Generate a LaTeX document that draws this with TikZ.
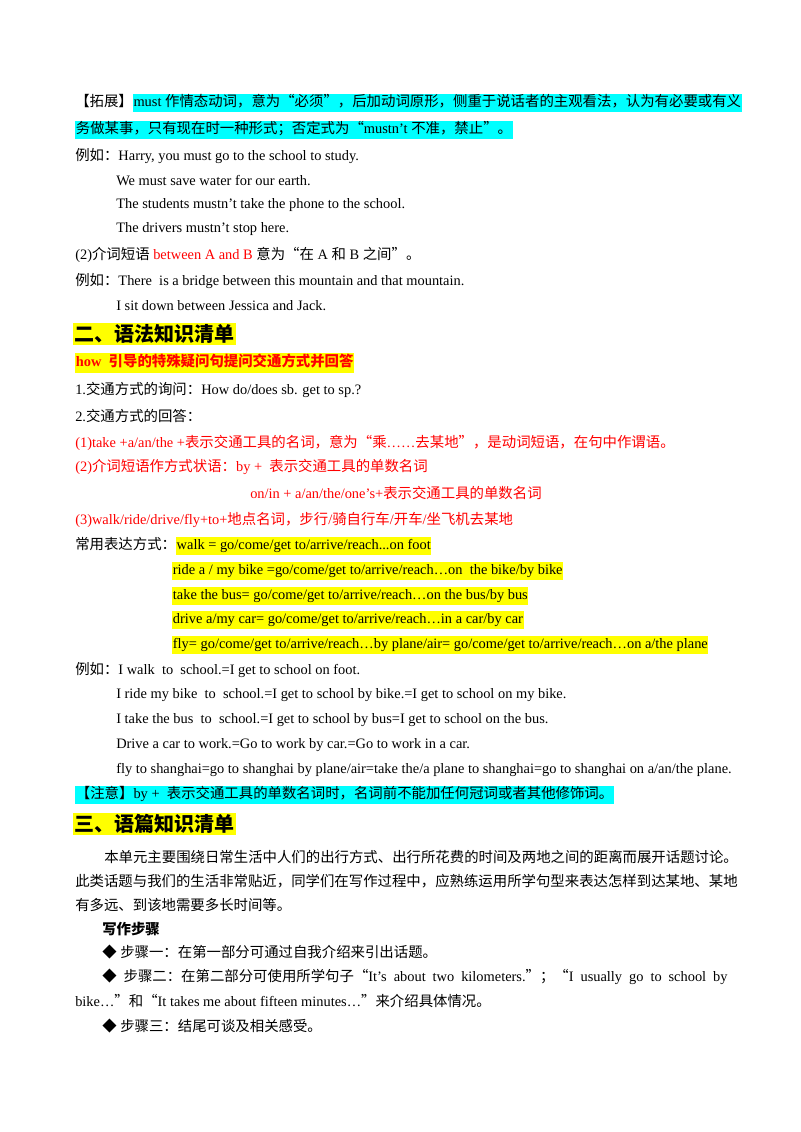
\documentclass[tikz,border=0pt]{standalone}
\usepackage{fontspec}
\usepackage{xcolor}
\setmainfont{Liberation Serif}
\newfontfamily\cjkfont{Noto Sans CJK SC}
\def\latinfont{\rmfamily}
\definecolor{hlcyan}{RGB}{0,255,255}
\definecolor{hlyellow}{RGB}{255,255,0}
% CJK font switching by character class
\XeTeXinterchartokenstate=1
\newXeTeXintercharclass\CJKcls
\newcount\cc
\def\setcls#1#2{\cc=#1\relax\loop\XeTeXcharclass\cc=\CJKcls\ifnum\cc<#2\relax\advance\cc by 1 \repeat}
\setcls{"3000}{"303F}
\setcls{"4E00}{"9FFF}
\setcls{"FF00}{"FFEF}
\setcls{"201C}{"201D}
\setcls{"25C6}{"25C6}
\XeTeXinterchartoks 0 \CJKcls = {\cjkfont}
\XeTeXinterchartoks 4095 \CJKcls = {\cjkfont}
\XeTeXinterchartoks \CJKcls 0 = {\latinfont}
\XeTeXinterchartoks \CJKcls 4095 = {\latinfont}
\XeTeXinterchartoks 4095 0 = {\latinfont}
\XeTeXlinebreaklocale "zh"
\XeTeXlinebreakskip=0pt plus 1pt
\newcommand{\hl}[2]{{\fboxsep=0.5pt\colorbox{#1}{\strut #2}}}
\newcommand{\rd}[1]{\textcolor{red}{#1}}
\tikzset{
  txt/.style={anchor=west,inner sep=0pt,font=\fontsize{10.8}{13}\selectfont},
  head/.style={anchor=west,inner sep=1pt,fill=hlyellow,font=\fontsize{15}{18}\selectfont\bfseries}
}
\begin{document}
\begin{tikzpicture}[x=0.75pt,y=0.75pt,yscale=-1]
\useasboundingbox[fill=white] (0,0) rectangle (800,1132);

% extension on must
\node[txt] (l1) at (75,103) {\makebox[489pt][s]{【拓展】\hl{hlcyan}{must 作情态动词，意为“必须”，后加动词原形，侧重于说话者的主观看法，认为有必要或有义}}};
\node[txt] (l2) at (75,130) {\hl{hlcyan}{务做某事，只有现在时一种形式；否定式为“mustn’t 不准，禁止”。}};
\node[txt] (l3) at (75,156) {例如：Harry, you must go to the school to study.};
\node[txt] (l4) at (116,181) {We must save water for our earth.};
\node[txt] (l5) at (116,205) {The students mustn’t take the phone to the school.};
\node[txt] (l6) at (116,229) {The drivers mustn’t stop here.};
\node[txt] (l7) at (75,255) {(2)介词短语 \rd{between A and B} 意为“在 A 和 B 之间”。};
\node[txt] (l8) at (75,281) {例如：There\ \ is a bridge between this mountain and that mountain.};
\node[txt] (l9) at (116,306) {I sit down between Jessica and Jack.};

% grammar list
\node[head] (h2) at (73,334) {二、语法知识清单};
\node[txt] (g0) at (75,363) {\hl{hlyellow}{\bfseries\color{red}how\ \ 引导的特殊疑问句提问交通方式并回答}};
\node[txt] (g1) at (75,390) {1.交通方式的询问：How do/does sb. get to sp.?};
\node[txt] (g2) at (75,416) {2.交通方式的回答：};
\node[txt,text=red] (g3) at (75,443) {(1)take +a/an/the +表示交通工具的名词，意为“乘……去某地”，是动词短语，在句中作谓语。};
\node[txt,text=red] (g4) at (75,467) {(2)介词短语作方式状语：by +\ \ 表示交通工具的单数名词};
\node[txt,text=red] (g5) at (250,493) {on/in + a/an/the/one’s+表示交通工具的单数名词};
\node[txt,text=red] (g6) at (75,520) {(3)walk/ride/drive/fly+to+地点名词，步行/骑自行车/开车/坐飞机去某地};
\node[txt] (e1) at (75,546) {常用表达方式：\hl{hlyellow}{walk = go/come/get to/arrive/reach...on foot}};
\node[txt] (e2) at (172,571) {\hl{hlyellow}{ride a / my bike =go/come/get to/arrive/reach…on\ \ the bike/by bike}};
\node[txt] (e3) at (172,596) {\hl{hlyellow}{take the bus= go/come/get to/arrive/reach…on the bus/by bus}};
\node[txt] (e4) at (172,620) {\hl{hlyellow}{drive a/my car= go/come/get to/arrive/reach…in a car/by car}};
\node[txt] (e5) at (172,645) {\hl{hlyellow}{fly= go/come/get to/arrive/reach…by plane/air= go/come/get to/arrive/reach…on a/the plane}};
\node[txt] (x1) at (75,670) {例如：I walk\ \ to\ \ school.=I get to school on foot.};
\node[txt] (x2) at (116,695) {I ride my bike\ \ to\ \ school.=I get to school by bike.=I get to school on my bike.};
\node[txt] (x3) at (116,720) {I take the bus\ \ to\ \ school.=I get to school by bus=I get to school on the bus.};
\node[txt] (x4) at (116,745) {Drive a car to work.=Go to work by car.=Go to work in a car.};
\node[txt] (x5) at (116,770) {fly to shanghai=go to shanghai by plane/air=take the/a plane to shanghai=go to shanghai on a/an/the plane.};
\node[txt] (note) at (75,795) {\hl{hlcyan}{【注意】by +\ \ 表示交通工具的单数名词时，名词前不能加任何冠词或者其他修饰词。}};

% text list
\node[head] (h3) at (73,824) {三、语篇知识清单};
\node[txt] (p1) at (104,857) {\makebox[467pt][s]{本单元主要围绕日常生活中人们的出行方式、出行所花费的时间及两地之间的距离而展开话题讨论。}};
\node[txt] (p2) at (75,881) {\makebox[489pt][s]{此类话题与我们的生活非常贴近，同学们在写作过程中，应熟练运用所学句型来表达怎样到达某地、某地}};
\node[txt] (p3) at (75,905) {有多远、到该地需要多长时间等。};
\node[txt,font=\fontsize{10.8}{13}\selectfont\bfseries] (s0) at (102,929) {写作步骤};
\node[txt] (s1) at (102,952) {◆ 步骤一：在第一部分可通过自我介绍来引出话题。};
\node[txt] (s2) at (102,977) {\makebox[469pt][s]{◆ 步骤二：在第二部分可使用所学句子“It’s about two kilometers.”；“I usually go to school by}};
\node[txt] (s3) at (75,1001) {bike…”和“It takes me about fifteen minutes…”来介绍具体情况。};
\node[txt] (s4) at (102,1026) {◆ 步骤三：结尾可谈及相关感受。};
\end{tikzpicture}
\end{document}
